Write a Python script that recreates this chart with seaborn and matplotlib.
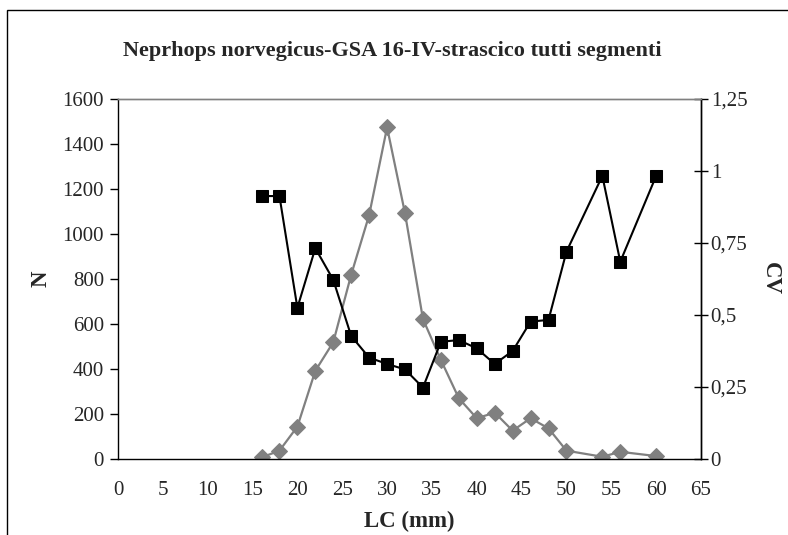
import pandas as pd
import numpy as np
import seaborn as sns
import matplotlib.pyplot as plt
from matplotlib.patches import Rectangle
from matplotlib.ticker import FuncFormatter

# Dati: classi di taglia LC (mm), numerosità N e coefficiente di variazione CV
lc = [16, 18, 20, 22, 24, 26, 28, 30, 32, 34, 36, 38, 40, 42, 44, 46, 48, 50, 54, 56, 60]
n_ind = [7, 37, 144, 392, 519, 819, 1084, 1474, 1092, 622, 440, 270, 181, 206, 126, 181, 136, 37, 10, 32, 13]
cv = [0.913, 0.913, 0.525, 0.732, 0.622, 0.427, 0.352, 0.33, 0.311, 0.248, 0.407, 0.413, 0.384, 0.33,
      0.375, 0.477, 0.483, 0.72, 0.983, 0.685, 0.983]

df = pd.DataFrame({"LC": lc, "N": n_ind, "CV": cv})

sns.set_style("white")
plt.rcParams['font.family'] = ['Liberation Serif', 'DejaVu Serif']

fig = plt.figure(figsize=(7.88, 5.35), dpi=100)
ax = fig.add_axes([118/788, 1 - 459/535, (701-118)/788, (459-99)/535])
ax2 = ax.twinx()

sns.lineplot(data=df, x="LC", y="N", ax=ax, color="#808080", marker="D", markersize=8,
             markeredgecolor="#808080", linewidth=1.6, zorder=2)
sns.lineplot(data=df, x="LC", y="CV", ax=ax2, color="black", marker="s", markersize=9,
             markeredgecolor="black", linewidth=1.5, zorder=3)

ax.set_xlim(0, 65)
ax.set_ylim(0, 1600)
ax.set_xticks(np.arange(0, 66, 5))
ax.set_yticks(np.arange(0, 1601, 200))
ax2.set_ylim(0, 1.25)
ax2.set_yticks([0, 0.25, 0.5, 0.75, 1, 1.25])
ax2.yaxis.set_major_formatter(FuncFormatter(lambda v, p: f"{v:g}".replace(".", ",")))

ax.set_xlabel("LC (mm)", fontsize=16.5, fontweight="bold", labelpad=8)
ax.set_ylabel("N", fontsize=16.5, fontweight="bold", labelpad=8)
ax2.set_ylabel("CV", fontsize=16.5, fontweight="bold", rotation=270, labelpad=24)

ax.tick_params(axis="x", labelsize=15, direction="out", length=6, width=1, color="black", pad=10)
ax.tick_params(axis="y", labelsize=15, direction="out", length=6, width=1, color="black", pad=4)
ax2.tick_params(axis="y", labelsize=15, direction="inout", length=10, width=1, color="black", pad=2)

for a in (ax, ax2):
    for s in ("left", "right", "bottom"):
        a.spines[s].set_color("black")
        a.spines[s].set_linewidth(1)
    a.spines["top"].set_color("#808080")
    a.spines["top"].set_linewidth(1)
ax2.spines["left"].set_visible(False)
ax2.spines["bottom"].set_visible(False)

fig.text(392/788, 1 - 51/535, "Neprhops norvegicus-GSA 16-IV-strascico tutti segmenti",
         ha="center", va="center", fontsize=16, fontweight="bold")

fig.add_artist(Rectangle((7/788, -0.05), 1.2, 1 - 10/535 + 0.05, transform=fig.transFigure,
                         fill=False, edgecolor="black", linewidth=1))

fig.savefig("out.png", dpi=100)
